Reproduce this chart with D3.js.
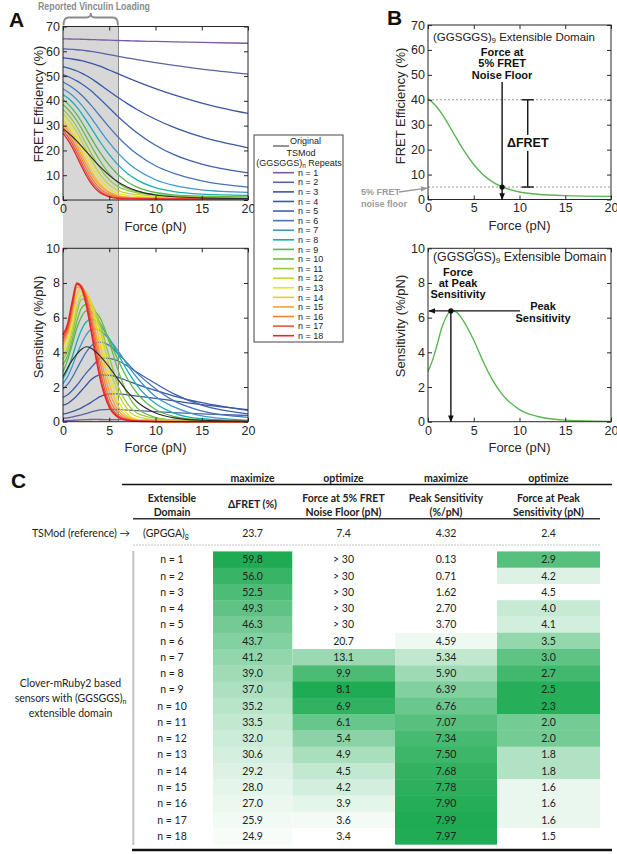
<!DOCTYPE html>
<html><head><meta charset="utf-8">
<script src="https://cdn.jsdelivr.net/npm/d3@7/dist/d3.min.js"></script>
<style>html,body{margin:0;padding:0;background:#fff;}svg{display:block;}</style>
</head><body>
<svg id="fig" width="617" height="854"></svg>
<script>
// ---------------- DATA ----------------
const forceGrid = [0,0.5,1,1.5,2,2.5,3,3.5,4,5,6,7,8,10,12,15,20];
const repeats = d3.range(1, 19);
const xTickValues = [0,5,10,15,20];
const fretTicks = [0,10,20,30,40,50,60,70];
const sensTicks = [0,2,4,6,8,10];

const fretN = [
 [65.0,64.97,64.94,64.9,64.85,64.79,64.73,64.67,64.6,64.48,64.36,64.25,64.15,63.96,63.79,63.56,63.25],
 [61.0,60.9,60.77,60.62,60.44,60.22,59.97,59.68,59.35,58.66,57.95,57.27,56.61,55.39,54.29,52.84,50.81],
 [57.4,57.16,56.89,56.58,56.21,55.77,55.26,54.66,53.98,52.45,50.85,49.27,47.76,44.93,42.38,39.11,34.91],
 [53.8,53.3,52.73,52.04,51.21,50.24,49.11,47.86,46.54,43.85,41.23,38.78,36.53,32.58,29.3,25.43,21.06],
 [50.6,49.86,49.03,48.05,46.92,45.6,44.13,42.5,40.75,37.1,33.51,30.16,27.13,22.08,18.28,14.45,10.95],
 [47.6,46.59,45.41,44.01,42.36,40.47,38.39,36.16,33.88,29.38,25.23,21.61,18.53,13.83,10.73,7.7,5.2],
 [44.9,43.7,42.25,40.48,38.38,36.0,33.43,30.77,28.12,23.12,18.72,15.07,12.17,8.17,5.87,4.1,3.1],
 [42.6,41.23,39.54,37.45,34.98,32.22,29.3,26.37,23.5,18.3,13.98,10.6,8.1,4.95,3.4,2.39,1.87],
 [40.5,38.89,36.89,34.43,31.56,28.45,25.27,22.15,19.2,14.05,10.05,7.18,5.23,3.03,2.1,1.54,1.27],
 [38.5,36.73,34.6,31.98,28.89,25.56,22.2,18.93,15.84,10.54,6.79,4.57,3.39,2.2,1.7,1.35,1.1],
 [36.5,34.58,32.29,29.46,26.13,22.62,19.15,15.85,12.85,8.15,5.28,3.78,2.9,2.0,1.55,1.2,0.95],
 [34.8,32.76,30.34,27.35,23.88,20.23,16.67,13.37,10.47,6.19,3.79,2.64,2.14,1.6,1.3,1.0,0.85],
 [33.3,31.11,28.51,25.26,21.58,17.88,14.35,11.13,8.4,4.57,2.65,1.86,1.5,1.2,1.0,0.85,0.75],
 [31.9,29.55,26.78,23.41,19.66,15.86,12.29,9.16,6.63,3.3,1.78,1.2,1.0,0.85,0.75,0.68,0.62],
 [30.6,28.25,25.45,21.98,18.14,14.4,10.96,8.05,5.78,2.95,1.6,1.1,0.9,0.75,0.68,0.6,0.55],
 [29.4,26.95,24.04,20.46,16.55,12.79,9.44,6.7,4.64,2.24,1.2,0.85,0.72,0.62,0.57,0.53,0.5],
 [28.2,25.65,22.63,18.96,15.0,11.27,8.03,5.47,3.62,1.6,0.85,0.62,0.55,0.5,0.47,0.45,0.43],
 [27.0,24.35,21.23,17.51,13.59,9.97,6.92,4.59,2.98,1.28,0.6,0.45,0.42,0.4,0.38,0.37,0.36]
];
const sensN = [
 [0.05,0.06,0.075,0.09,0.105,0.118,0.128,0.13,0.128,0.122,0.115,0.108,0.1,0.09,0.082,0.07,0.055],
 [0.2,0.22,0.27,0.33,0.4,0.47,0.55,0.62,0.68,0.71,0.7,0.67,0.64,0.58,0.52,0.45,0.36],
 [0.45,0.5,0.58,0.68,0.8,0.95,1.1,1.28,1.45,1.61,1.6,1.55,1.48,1.35,1.2,0.98,0.7],
 [0.95,1.05,1.25,1.5,1.8,2.1,2.4,2.6,2.7,2.68,2.55,2.35,2.15,1.8,1.48,1.1,0.65],
 [1.4,1.55,1.8,2.1,2.45,2.8,3.1,3.4,3.68,3.65,3.5,3.2,2.85,2.2,1.6,0.95,0.45],
 [1.9,2.15,2.55,3.05,3.55,4.0,4.35,4.55,4.59,4.4,3.9,3.35,2.8,1.9,1.2,0.62,0.25],
 [2.2,2.6,3.2,3.9,4.5,5.0,5.3,5.34,5.25,4.75,4.05,3.25,2.55,1.45,0.85,0.33,0.08],
 [2.5,3.0,3.75,4.6,5.3,5.75,5.9,5.85,5.6,4.8,3.85,2.9,2.1,1.05,0.5,0.17,0.04],
 [2.9,3.55,4.45,5.4,6.05,6.39,6.35,6.1,5.7,4.7,3.5,2.45,1.65,0.7,0.3,0.09,0.02],
 [3.3,3.8,4.7,5.8,6.55,6.76,6.7,6.35,6.0,4.6,2.9,1.55,0.8,0.25,0.08,0.02,0],
 [3.6,4.1,5.05,6.25,7.07,7.0,6.85,6.35,5.65,3.75,2.0,1.0,0.5,0.2,0.1,0.04,0.01],
 [3.8,4.35,5.35,6.6,7.3,7.34,6.95,6.25,5.35,3.2,1.6,0.7,0.3,0.12,0.06,0.03,0.01],
 [4.1,4.65,5.75,7.25,7.5,7.3,6.85,6.0,4.95,2.7,1.15,0.42,0.15,0.05,0.02,0.01,0],
 [4.4,5.0,6.1,7.35,7.68,7.5,6.8,5.7,4.45,2.2,0.85,0.3,0.1,0.03,0.01,0,0],
 [4.5,5.1,6.25,7.75,7.7,7.3,6.45,5.2,3.9,1.75,0.62,0.21,0.07,0.02,0,0,0],
 [4.65,5.25,6.45,7.9,7.8,7.25,6.15,4.8,3.45,1.35,0.45,0.15,0.05,0.01,0,0,0],
 [4.8,5.4,6.7,7.99,7.85,7.1,5.85,4.4,3.0,1.05,0.33,0.1,0.04,0.01,0,0,0],
 [5.0,5.6,6.9,7.97,7.7,6.8,5.4,3.9,2.55,0.85,0.25,0.08,0.03,0.01,0,0,0]
];
const fretTSMod = [28.7,27.28,25.62,23.76,21.74,19.61,17.47,15.39,13.43,9.95,7.17,5.12,3.69,2.04,1.32,0.87,0.62];
const sensTSMod = [2.6,3.1,3.55,3.9,4.18,4.32,4.25,4.05,3.8,3.15,2.4,1.7,1.15,0.5,0.22,0.08,0.02];

const vinculinRange = [0, 6];
const exampleRepeat = 9;
const noiseFloor = 5;
const fretAtZero = 40;
const forceAtFloor = 8.1;
const peakSensitivity = 6.39;
const forceAtPeak = 2.5;
const deltaBarForce = 10.9;
const peakArrowStart = 10.05;

// table
const objectives = ["maximize","optimize","maximize","optimize"];
const tsmodRow = ["23.7","7.4","4.32","2.4"];
const dFRET = ["59.8","56.0","52.5","49.3","46.3","43.7","41.2","39.0","37.0","35.2","33.5","32.0","30.6","29.2","28.0","27.0","25.9","24.9"];
const force5 = ["> 30","> 30","> 30","> 30","> 30","20.7","13.1","9.9","8.1","6.9","6.1","5.4","4.9","4.5","4.2","3.9","3.6","3.4"];
const peakSens = ["0.13","0.71","1.62","2.70","3.70","4.59","5.34","5.90","6.39","6.76","7.07","7.34","7.50","7.68","7.78","7.90","7.99","7.97"];
const forcePeak = ["2.9","4.2","4.5","4.0","4.1","3.5","3.0","2.7","2.5","2.3","2.0","2.0","1.8","1.8","1.6","1.6","1.6","1.5"];
const shadeDFRET = [1,0.895,0.798,0.709,0.626,0.554,0.485,0.424,0.368,0.319,0.271,0.23,0.191,0.152,0.119,0.091,0.061,0.033];
const shadeForce5 = [0,0,0,0,0,0,0.45,0.8,1,0.92,0.68,0.52,0.38,0.27,0.2,0.12,0.05,0];
const shadePeak = [0,0,0,0,0,0.074,0.278,0.431,0.564,0.665,0.749,0.823,0.866,0.916,0.943,0.975,1,0.995];
const shadeForcePeak = [0.75,0.15,0,0.25,0.2,0.48,0.72,0.85,0.97,0.97,0.62,0.62,0.35,0.35,0.1,0.1,0.1,0];

// ---------------- STYLE ----------------
const curveColors = ["#7a5ba6","#5a63a3","#3f55a0","#3b58a6","#3c62ad","#4574b7","#3f97c9","#1aaeb1","#5ab552","#6cbb45","#98c73f","#c3d53a","#e9e52f","#f6c52d","#f3a139","#ef7d3e","#e9553a","#e2292c"];
const PF = "'Liberation Sans', Arial, Helvetica, sans-serif";
const TF = "Lato, 'Open Sans', sans-serif";
const INK = "#262626";

const svg = d3.select("#fig");
const defs = svg.append("defs");
function marker(id, color){
  defs.append("marker").attr("id", id).attr("viewBox","0 0 10 10").attr("refX",9).attr("refY",5)
    .attr("markerUnits","userSpaceOnUse").attr("markerWidth",7).attr("markerHeight",7)
    .attr("orient","auto").append("path").attr("d","M0,1 L10,5 L0,9 z").attr("fill", color);
}
marker("ah", "#111"); marker("ahg", "#9a9a9a");

function panel(box, yMax, ticks){
  return {box, ticks,
    x: d3.scaleLinear().domain([0,20]).range([box.l, box.r]),
    y: d3.scaleLinear().domain([0,yMax]).range([box.b, box.t])};
}
const pA1 = panel({l:63,r:248,t:26.5,b:200}, 70, fretTicks);
const pA2 = panel({l:63,r:248,t:248.3,b:421.7}, 10, sensTicks);
const pB1 = panel({l:428,r:611,t:25,b:199.5}, 70, fretTicks);
const pB2 = panel({l:428,r:611,t:248.3,b:421.7}, 10, sensTicks);

// gray vinculin region
svg.append("rect").attr("x", pA1.x(vinculinRange[0])).attr("y", pA1.box.t)
  .attr("width", pA1.x(vinculinRange[1]) - pA1.x(vinculinRange[0]))
  .attr("height", pA2.box.b - pA1.box.t).attr("fill", "#d7d7d7");
svg.append("line").attr("x1", pA1.x(vinculinRange[1])).attr("x2", pA1.x(vinculinRange[1]))
  .attr("y1", pA1.box.t).attr("y2", pA2.box.b).attr("stroke", "#8a8a8a").attr("stroke-width", 1);

function axes(p, xTitle, yTitle, yTitleCY, yTitleX, xTitleY){
  const g = svg.append("g");
  g.append("g").attr("transform",`translate(0,${p.box.b})`)
    .call(d3.axisBottom(p.x).tickValues(xTickValues).tickSizeInner(-4).tickSizeOuter(0).tickPadding(4));
  g.append("g").attr("transform",`translate(0,${p.box.t})`)
    .call(d3.axisTop(p.x).tickValues(xTickValues).tickSizeInner(-4).tickSizeOuter(0).tickFormat(""));
  g.append("g").attr("transform",`translate(${p.box.l},0)`)
    .call(d3.axisLeft(p.y).tickValues(p.ticks).tickSizeInner(-4).tickSizeOuter(0).tickPadding(3));
  g.append("g").attr("transform",`translate(${p.box.r},0)`)
    .call(d3.axisRight(p.y).tickValues(p.ticks).tickSizeInner(-4).tickSizeOuter(0).tickFormat(""));
  g.selectAll(".domain").remove();
  g.selectAll(".tick line").attr("stroke", INK);
  g.selectAll(".tick text").attr("font-size", 12.5).attr("fill", INK).attr("font-family", PF);
  g.append("rect").attr("x", p.box.l).attr("y", p.box.t).attr("width", p.box.r - p.box.l)
    .attr("height", p.box.b - p.box.t).attr("fill","none").attr("stroke", INK).attr("stroke-width", 1);
  g.append("text").attr("x", (p.box.l + p.box.r)/2).attr("y", xTitleY).attr("text-anchor","middle")
    .attr("font-family", PF).attr("font-size", 13).attr("fill", INK).text(xTitle);
  g.append("text").attr("transform", `translate(${yTitleX},${yTitleCY}) rotate(-90)`).attr("text-anchor","middle")
    .attr("font-family", PF).attr("font-size", 13).attr("fill", INK).text(yTitle);
}

function drawCurve(p, vals, color, width){
  const line = d3.line().x((d,i) => p.x(forceGrid[i])).y(d => p.y(d)).curve(d3.curveMonotoneX);
  svg.append("path").attr("d", line(vals)).attr("fill","none").attr("stroke", color)
    .attr("stroke-width", width).attr("stroke-linejoin","round");
}

// Panel A curves
fretN.forEach((v,i) => drawCurve(pA1, v, curveColors[i], 1.3));
drawCurve(pA1, fretTSMod, "#2b2b2b", 1.1);
sensN.forEach((v,i) => drawCurve(pA2, v, curveColors[i], i === 17 ? 1.8 : 1.3));
drawCurve(pA2, sensTSMod, "#2b2b2b", 1.1);

axes(pA1, "Force (pN)", "FRET Efficiency (%)", 104, 43, 230.5);
axes(pA2, "Force (pN)", "Sensitivity (%/pN)", 327, 43, 452);

// Panel labels
function bigLabel(t, x, y, size){
  svg.append("text").attr("x", x).attr("y", y).attr("font-family", PF).attr("font-weight","bold")
    .attr("font-size", size).attr("fill","#111").text(t);
}
bigLabel("A", 9, 27, 21);
bigLabel("B", 387, 25, 21);
bigLabel("C", 11, 488, 21);

// Vinculin brace
{
  const x0 = pA1.x(vinculinRange[0]) + 0.5, x1 = pA1.x(vinculinRange[1]) - 0.5, xm = (x0 + x1)/2;
  const yb = 25.5, yc = 17.5, yt = 13;
  svg.append("path").attr("d",
    `M${x0},${yb} Q${x0},${yc} ${x0+5},${yc} L${xm-4},${yc} Q${xm},${yc} ${xm},${yt} Q${xm},${yc} ${xm+4},${yc} L${x1-5},${yc} Q${x1},${yc} ${x1},${yb}`)
    .attr("fill","none").attr("stroke","#8c8c8c").attr("stroke-width", 1.8);
  svg.append("text").attr("x", 38).attr("y", 9.5).attr("font-family", PF).attr("font-weight","bold")
    .attr("font-size", 10).attr("fill","#8c8c8c").attr("textLength", 112).attr("lengthAdjust","spacingAndGlyphs")
    .text("Reported Vinculin Loading");
}

// Legend
{
  const g = svg.append("g").attr("font-family", PF).attr("font-size", 9).attr("fill", "#222");
  g.append("rect").attr("x", 254).attr("y", 135).attr("width", 89).attr("height", 207)
    .attr("fill","#fff").attr("stroke","#444").attr("stroke-width", 1);
  g.append("line").attr("x1", 273).attr("x2", 289).attr("y1", 146).attr("y2", 146).attr("stroke","#2b2b2b").attr("stroke-width",1);
  g.append("text").attr("x", 290).attr("y", 144).text("Original");
  g.append("text").attr("x", 301).attr("y", 156).attr("text-anchor","middle").text("TSMod");
  const t = g.append("text").attr("x", 299).attr("y", 166).attr("text-anchor","middle");
  t.append("tspan").text("(GGSGGS)");
  t.append("tspan").attr("font-size", 6.5).attr("dy", 2).text("n");
  t.append("tspan").attr("dy", -2).text(" Repeats");
  const ly = d3.scaleLinear().domain([1, 18]).range([172.7, 335.7]);
  repeats.forEach((n, i) => {
    g.append("line").attr("x1", 273).attr("x2", 294).attr("y1", ly(n)).attr("y2", ly(n))
      .attr("stroke", curveColors[i]).attr("stroke-width", 1.6);
    g.append("text").attr("x", 298).attr("y", ly(n) + 3.2).text(`n = ${n}`);
  });
}

// Panel B
const exFret = fretN[exampleRepeat - 1], exSens = sensN[exampleRepeat - 1], exColor = curveColors[exampleRepeat - 1];
[fretAtZero, noiseFloor].forEach(v => {
  svg.append("line").attr("x1", pB1.x(0)).attr("x2", pB1.x(20)).attr("y1", pB1.y(v)).attr("y2", pB1.y(v))
    .attr("stroke","#999").attr("stroke-width",1).attr("stroke-dasharray","2,2");
});
drawCurve(pB1, exFret, exColor, 1.4);
drawCurve(pB2, exSens, exColor, 1.4);
axes(pB1, "Force (pN)", "FRET Efficiency (%)", 106, 405, 229.5);
axes(pB2, "Force (pN)", "Sensitivity (%/pN)", 326, 405, 452);

function domainTitle(x, y, size){
  const t = svg.append("text").attr("x", x).attr("y", y).attr("font-family", PF).attr("font-size", size).attr("fill","#222");
  t.append("tspan").text("(GGSGGS)");
  t.append("tspan").attr("font-size", size*0.65).attr("dy", size*0.2).text(String(exampleRepeat));
  t.append("tspan").attr("dy", -size*0.2).text(" Extensible Domain");
}
domainTitle(433, 41, 11.5);
domainTitle(433, 261, 12.3);

function boldLines(lines, cx, y0, dy, size){
  lines.forEach((s, i) => svg.append("text").attr("x", cx).attr("y", y0 + i*dy).attr("text-anchor","middle")
    .attr("font-family", PF).attr("font-weight","bold").attr("font-size", size).attr("fill","#111").text(s));
}
boldLines(["Force at","5% FRET","Noise Floor"], pB1.x(forceAtFloor), 55.5, 11.8, 11);
svg.append("line").attr("x1", pB1.x(forceAtFloor)).attr("x2", pB1.x(forceAtFloor))
  .attr("y1", 82).attr("y2", pB1.y(0)).attr("stroke","#111").attr("stroke-width",1.4).attr("marker-end","url(#ah)");
svg.append("circle").attr("cx", pB1.x(forceAtFloor)).attr("cy", pB1.y(noiseFloor)).attr("r", 2.6).attr("fill","#111");
{
  const bx = pB1.x(deltaBarForce);
  svg.append("line").attr("x1", bx).attr("x2", bx).attr("y1", pB1.y(fretAtZero)).attr("y2", pB1.y(noiseFloor))
    .attr("stroke","#111").attr("stroke-width",1.4);
  [fretAtZero, noiseFloor].forEach(v => svg.append("line").attr("x1", bx-6).attr("x2", bx+6)
    .attr("y1", pB1.y(v)).attr("y2", pB1.y(v)).attr("stroke","#111").attr("stroke-width",1.4));
  const cy = pB1.y((fretAtZero + noiseFloor)/2 + 0.2);
  svg.append("rect").attr("x", bx-21).attr("y", cy-8).attr("width", 42).attr("height", 16).attr("fill","#fff");
  svg.append("text").attr("x", bx).attr("y", cy+4.5).attr("text-anchor","middle").attr("font-family", PF)
    .attr("font-weight","bold").attr("font-size", 12.5).attr("fill","#111").text("ΔFRET");
}
svg.append("text").attr("x", 361).attr("y", 195).attr("font-family", PF).attr("font-weight","bold")
  .attr("font-size", 9).attr("fill","#9a9a9a").text("5% FRET");
svg.append("text").attr("x", 361).attr("y", 206.5).attr("font-family", PF).attr("font-weight","bold")
  .attr("font-size", 9).attr("fill","#9a9a9a").text("noise floor");
svg.append("line").attr("x1", 399).attr("y1", 192).attr("x2", pB1.x(0) - 1).attr("y2", pB1.y(noiseFloor) + 1)
  .attr("stroke","#9a9a9a").attr("stroke-width",1.3).attr("marker-end","url(#ahg)");

boldLines(["Force","at Peak","Sensitivity"], 458, 275.5, 11.4, 11);
boldLines(["Peak","Sensitivity"], 543, 310, 11.6, 11);
svg.append("line").attr("x1", pB2.x(peakArrowStart)).attr("x2", pB2.x(0) + 1)
  .attr("y1", pB2.y(peakSensitivity)).attr("y2", pB2.y(peakSensitivity))
  .attr("stroke","#111").attr("stroke-width",1.4).attr("marker-end","url(#ah)");
svg.append("line").attr("x1", pB2.x(forceAtPeak)).attr("x2", pB2.x(forceAtPeak))
  .attr("y1", pB2.y(peakSensitivity)).attr("y2", pB2.y(0))
  .attr("stroke","#111").attr("stroke-width",1.4).attr("marker-end","url(#ah)");
svg.append("circle").attr("cx", pB2.x(forceAtPeak)).attr("cy", pB2.y(peakSensitivity)).attr("r", 2.6).attr("fill","#111");

// ---------------- TABLE ----------------
{
  const g = svg.append("g").attr("font-family", TF).attr("fill", "#222");
  const colCenters = [172, 252.5, 343.5, 446, 548.5];
  const edges = [213, 292.5, 395, 497, 600];
  const rowY = d3.scaleBand().domain(repeats).range([551.4, 551.4 + 18*16.27]);
  const bw = rowY.bandwidth();
  const green = d3.interpolateRgb("#ffffff", "#1fab53");
  const cols = [dFRET, force5, peakSens, forcePeak];
  const shades = [shadeDFRET, shadeForce5, shadePeak, shadeForcePeak];

  cols.forEach((col, c) => {
    g.selectAll(null).data(repeats).enter().append("rect")
      .attr("x", edges[c]).attr("width", edges[c+1] - edges[c])
      .attr("y", n => rowY(n)).attr("height", bw + 0.4)
      .attr("fill", (n, i) => green(shades[c][i]));
  });
  objectives.forEach((o, c) => g.append("text").attr("x", colCenters[c+1]).attr("y", 482)
    .attr("text-anchor","middle").attr("font-size", 10.5).attr("font-weight","bold").text(o));
  g.append("line").attr("x1", 122).attr("x2", 612).attr("y1", 484.5).attr("y2", 484.5).attr("stroke","#111").attr("stroke-width",1.4);
  const hdr = [["Extensible","Domain"], null, ["Force at 5% FRET","Noise Floor (pN)"], ["Peak Sensitivity","(%/pN)"], ["Force at Peak","Sensitivity (pN)"]];
  hdr.forEach((h, c) => {
    if (!h) return;
    h.forEach((s, k) => g.append("text").attr("x", colCenters[c]).attr("y", 501.5 + k*14)
      .attr("text-anchor","middle").attr("font-size", 10.5).attr("font-weight","bold").text(s));
  });
  g.append("text").attr("x", colCenters[1]).attr("y", 508.3).attr("text-anchor","middle")
    .attr("font-size", 10.5).attr("font-weight","bold").text("ΔFRET (%)");
  g.append("line").attr("x1", 133).attr("x2", 600).attr("y1", 518.7).attr("y2", 518.7).attr("stroke","#333").attr("stroke-width",1.6);
  g.append("text").attr("x", 130).attr("y", 537).attr("text-anchor","end").attr("font-size", 10.5).text("TSMod (reference) →");
  const gp = g.append("text").attr("x", 166).attr("y", 537).attr("text-anchor","middle").attr("font-size", 10.5);
  gp.append("tspan").text("(GPGGA)"); gp.append("tspan").attr("font-size", 7).attr("dy", 2.5).text("8");
  tsmodRow.forEach((v, c) => g.append("text").attr("x", colCenters[c+1]).attr("y", 537)
    .attr("text-anchor","middle").attr("font-size", 10.5).text(v));
  g.append("line").attr("x1", 133).attr("x2", 600).attr("y1", 545).attr("y2", 545)
    .attr("stroke","#c4c4c4").attr("stroke-width",1).attr("stroke-dasharray","2,1");
  g.selectAll(null).data(repeats).enter().append("text").attr("x", colCenters[0])
    .attr("y", n => rowY(n) + bw/2 + 3.7).attr("text-anchor","middle").attr("font-size", 10.5).text(n => `n = ${n}`);
  cols.forEach((col, c) => {
    g.selectAll(null).data(col).enter().append("text").attr("x", colCenters[c+1])
      .attr("y", (d, i) => rowY(repeats[i]) + bw/2 + 3.7).attr("text-anchor","middle").attr("font-size", 10.5).text(d => d);
  });
  g.append("line").attr("x1", 133.3).attr("x2", 133.3).attr("y1", 551).attr("y2", 845).attr("stroke","#c4c4c4").attr("stroke-width",2);
  g.append("line").attr("x1", 132).attr("x2", 612).attr("y1", 850).attr("y2", 850).attr("stroke","#111").attr("stroke-width",2.6);
  g.append("text").attr("x", 70.5).attr("y", 686.5).attr("text-anchor","middle").attr("font-size", 10.5).text("Clover-mRuby2 based");
  const s2 = g.append("text").attr("x", 70.5).attr("y", 701.8).attr("text-anchor","middle").attr("font-size", 10.5);
  s2.append("tspan").text("sensors with (GGSGGS)"); s2.append("tspan").attr("font-size", 7).attr("dy", 2.5).text("n");
  g.append("text").attr("x", 70.5).attr("y", 717).attr("text-anchor","middle").attr("font-size", 10.5).text("extensible domain");
}
</script>
</body></html>
